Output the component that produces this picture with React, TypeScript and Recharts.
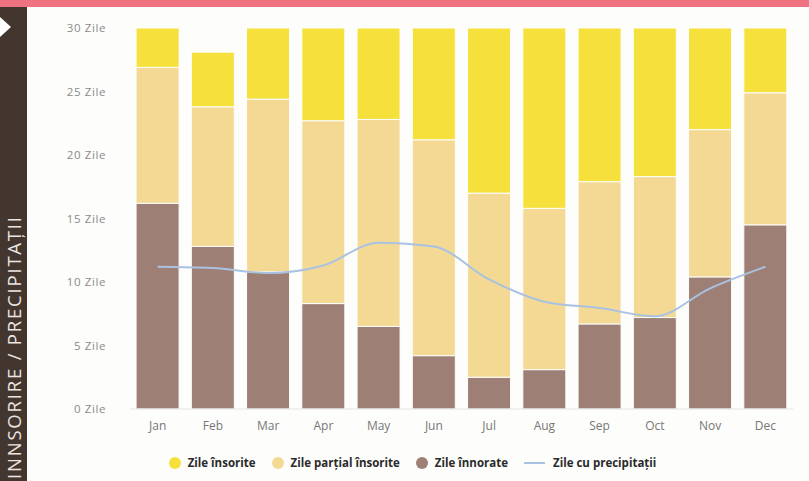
import React from "react";
import { ComposedChart, Bar, Line, XAxis, YAxis, Legend } from "recharts";

const months = ["Jan", "Feb", "Mar", "Apr", "May", "Jun", "Jul", "Aug", "Sep", "Oct", "Nov", "Dec"];
const cloudyDays = [16.2, 12.8, 10.8, 8.3, 6.5, 4.2, 2.5, 3.1, 6.7, 7.2, 10.4, 14.5];
const partlySunnyDays = [10.7, 11.0, 13.6, 14.4, 16.3, 17.0, 14.5, 12.7, 11.2, 11.1, 11.6, 10.4];
const sunnyDays = [3.1, 4.3, 5.6, 7.3, 7.2, 8.8, 13.0, 14.2, 12.1, 11.7, 8.0, 5.1];
const rainyDays = [11.2, 11.1, 10.7, 11.3, 13.1, 12.8, 10.2, 8.45, 7.95, 7.3, 9.5, 11.2];
const yTicks = [0, 5, 10, 15, 20, 25, 30];

const labels = {
  sunny: "Zile însorite",
  partly: "Zile parțial însorite",
  cloudy: "Zile înnorate",
  rain: "Zile cu precipitații",
};

const COLORS = {
  sunny: "#f6e13c",
  partly: "#f4d995",
  cloudy: "#9d7f75",
  rain: "#a9c2e2",
};

const data = months.map((m, i) => ({
  month: m,
  cloudy: cloudyDays[i],
  partly: partlySunnyDays[i],
  sunny: sunnyDays[i],
  rain: rainyDays[i],
}));

const FONT = "'Open Sans', 'DejaVu Sans', sans-serif";

const LegendContent = () => {
  const items = [
    { key: "sunny", type: "circle" },
    { key: "partly", type: "circle" },
    { key: "cloudy", type: "circle" },
    { key: "rain", type: "line" },
  ] as const;
  return (
    <div style={{ display: "flex", justifyContent: "center", alignItems: "center", fontFamily: FONT, fontSize: 11.5, fontWeight: 700, color: "#2a2a2a", paddingLeft: 8 }}>
      {items.map((it) => (
        <div key={it.key} style={{ display: "flex", alignItems: "center", marginRight: 16 }}>
          {it.type === "circle" ? (
            <span style={{ display: "inline-block", width: 12, height: 12, borderRadius: "50%", background: (COLORS as any)[it.key], marginRight: 7 }} />
          ) : (
            <span style={{ display: "inline-block", width: 21, height: 2, background: COLORS.rain, marginRight: 8 }} />
          )}
          <span>{(labels as any)[it.key]}</span>
        </div>
      ))}
    </div>
  );
};

export default function App() {
  return (
    <div style={{ position: "absolute", left: 0, top: 0, width: 809, height: 481, background: "#fdfdfb", overflow: "hidden" }}>
      <div style={{ position: "absolute", left: 0, top: 0, width: 809, height: 7, background: "#ef7281" }} />
      <div style={{ position: "absolute", left: 0, top: 7, width: 27, height: 474, background: "#43362f" }} />
      <div style={{ position: "absolute", left: 0, top: 17, width: 0, height: 0, borderTop: "10px solid transparent", borderBottom: "10px solid transparent", borderLeft: "11px solid #ffffff" }} />
      <div
        style={{
          position: "absolute",
          left: 14,
          top: 479,
          transformOrigin: "0 0",
          transform: "rotate(-90deg) translateY(-50%)",
          whiteSpace: "nowrap",
          fontFamily: FONT,
          fontSize: 18.5,
          letterSpacing: 1.8,
          lineHeight: "22px",
          color: "#ece4e0",
        }}
      >
        INNSORIRE / PRECIPITAȚII
      </div>
      <div style={{ position: "absolute", left: 0, top: 0 }}>
        <ComposedChart width={809} height={481} data={data} margin={{ top: 28, right: 16, left: 40, bottom: 6 }} barCategoryGap="11%">
          <XAxis
            dataKey="month"
            axisLine={{ stroke: "#e4e4e4" }}
            tickLine={false}
            height={46}
            tickMargin={6}
            tick={{ fill: "#777", fontSize: 12, fontFamily: FONT }}
          />
          <YAxis
            domain={[0, 30]}
            ticks={yTicks}
            width={90}
            axisLine={false}
            tickLine={false}
            tickMargin={18}
            tickFormatter={(v: number) => `${v} Zile`}
            tick={{ fill: "#8a8a8a", fontSize: 11.5, fontFamily: FONT, letterSpacing: 0.6 }}
          />
          <Bar dataKey="cloudy" stackId="a" fill={COLORS.cloudy} stroke="#fdfdfb" strokeWidth={1} isAnimationActive={false} />
          <Bar dataKey="partly" stackId="a" fill={COLORS.partly} stroke="#fdfdfb" strokeWidth={1} isAnimationActive={false} />
          <Bar dataKey="sunny" stackId="a" fill={COLORS.sunny} stroke="#fdfdfb" strokeWidth={1} isAnimationActive={false} />
          <Line dataKey="rain" type="monotone" stroke={COLORS.rain} strokeWidth={2} dot={false} isAnimationActive={false} />
          <Legend verticalAlign="bottom" height={20} content={<LegendContent />} />
        </ComposedChart>
      </div>
    </div>
  );
}
